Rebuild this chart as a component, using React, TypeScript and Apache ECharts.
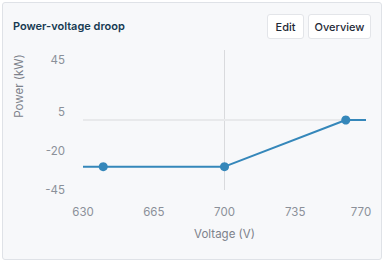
import React, { useEffect, useRef } from "react";
import * as echarts from "echarts";

const voltages = [630, 640, 700, 760, 770];
const powers = [-30, -30, -30, 0, 0];
const showMarker = [false, true, true, true, false];
const xTicks = [630, 665, 700, 735, 770];
const yTicks = [-45, -20, 5, 45];
const refVoltage = 700;
const refPower = 0;

const FONT = "Inter, 'Noto Sans', sans-serif";
const LABEL_COLOR = "#8b9099";

export default function App() {
  const ref = useRef<HTMLDivElement>(null);

  useEffect(() => {
    document.body.style.margin = "0";
    if (!ref.current) return;
    const chart = echarts.init(ref.current, null, { renderer: "svg" });
    const data = voltages.map((v, i) => ({
      value: [v, powers[i]],
      symbol: showMarker[i] ? "circle" : "none",
    }));
    chart.setOption({
      animation: false,
      backgroundColor: "transparent",
      textStyle: { fontFamily: FONT },
      grid: { left: 83, top: 50, width: 283, height: 140 },
      xAxis: {
        type: "value",
        min: xTicks[0],
        max: xTicks[xTicks.length - 1],
        name: "Voltage (V)",
        nameLocation: "middle",
        nameGap: 38,
        nameTextStyle: { color: "#7d828b", fontSize: 11.5, fontFamily: FONT },
        axisLine: { show: false },
        axisTick: { show: false },
        splitLine: { show: false },
        axisLabel: {
          customValues: xTicks,
          margin: 16,
          color: LABEL_COLOR,
          fontSize: 11.5,
          fontFamily: FONT,
          formatter: (v: number) =>
            v === xTicks[xTicks.length - 1] ? `{last|${v}}` : String(v),
          rich: {
            last: { padding: [0, 10, 0, 0], color: LABEL_COLOR, fontSize: 11.5, fontFamily: FONT },
          },
        },
      },
      yAxis: {
        type: "value",
        min: yTicks[0],
        max: yTicks[yTicks.length - 1],
        name: "Power (kW)",
        nameLocation: "middle",
        nameGap: 58,
        nameTextStyle: {
          color: "#7d828b",
          fontSize: 11.5,
          fontFamily: FONT,
          padding: [0, 0, 0, 68],
        },
        axisLine: { show: false },
        axisTick: { show: false },
        splitLine: { show: false },
        axisLabel: {
          customValues: yTicks,
          margin: 18,
          color: LABEL_COLOR,
          fontSize: 11.5,
          fontFamily: FONT,
          formatter: (v: number) =>
            v === yTicks[yTicks.length - 1] ? `{top|${v}}` : String(v),
          rich: {
            top: { padding: [20, 0, 0, 0], color: LABEL_COLOR, fontSize: 11.5, fontFamily: FONT },
          },
        },
      },
      series: [
        {
          type: "line",
          data,
          symbolSize: 9,
          lineStyle: { color: "#3587ba", width: 2 },
          itemStyle: { color: "#3587ba" },
          z: 3,
          markLine: {
            silent: true,
            symbol: "none",
            label: { show: false },
            z: 1,
            data: [
              { xAxis: refVoltage, lineStyle: { color: "#d9dadd", width: 1, type: "solid" } },
              { yAxis: refPower, lineStyle: { color: "#e8e9eb", width: 2, type: "solid" } },
            ],
          },
        },
      ],
    });
    return () => chart.dispose();
  }, []);

  const btn: React.CSSProperties = {
    position: "absolute",
    top: 14,
    height: 25,
    boxSizing: "border-box",
    border: "1px solid #e3e5e9",
    borderRadius: 3,
    background: "#ffffff",
    color: "#1f2a37",
    fontSize: 11,
    fontWeight: 500,
    fontFamily: FONT,
    display: "flex",
    alignItems: "center",
    justifyContent: "center",
  };

  return (
    <div style={{ position: "fixed", left: 0, top: 0, width: 384, height: 263, background: "#ffffff" }}>
      <div
        style={{
          position: "absolute",
          left: 2,
          top: 2,
          width: 380,
          height: 258,
          boxSizing: "border-box",
          border: "1px solid #dfe2e7",
          borderRadius: 3,
          background: "#f7f8fa",
        }}
      />
      <div
        style={{
          position: "absolute",
          left: 13,
          top: 18,
          fontFamily: FONT,
          fontSize: 11,
          fontWeight: 600,
          color: "#163a52",
          lineHeight: "16px",
        }}
      >
        Power-voltage droop
      </div>
      <div style={{ ...btn, left: 267, width: 37 }}>Edit</div>
      <div style={{ ...btn, left: 308, width: 63 }}>Overview</div>
      <div ref={ref} style={{ position: "absolute", left: 0, top: 0, width: 384, height: 263 }} />
    </div>
  );
}
